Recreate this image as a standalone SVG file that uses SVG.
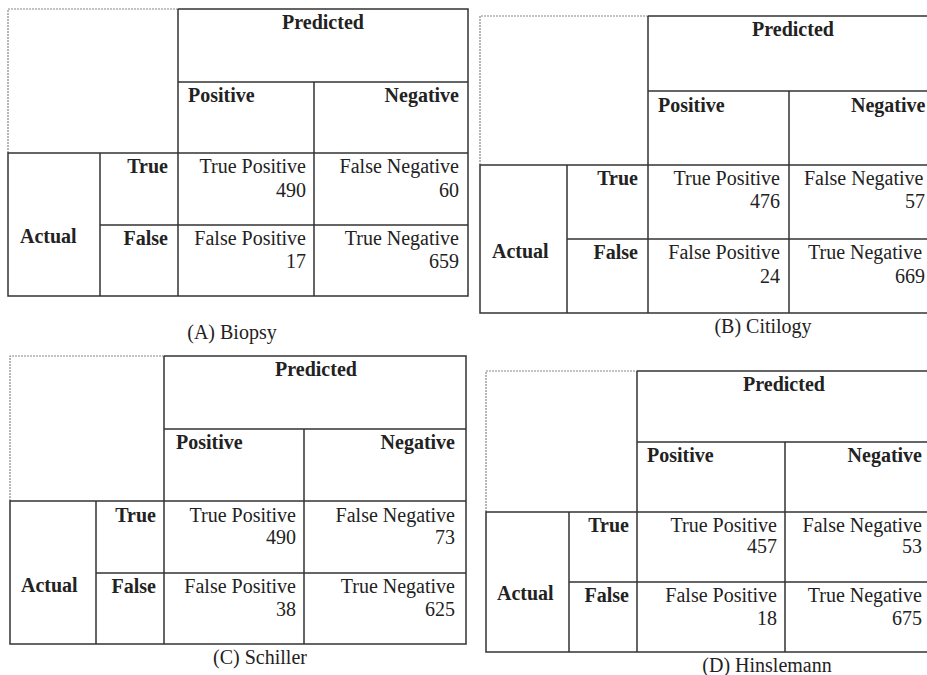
<svg xmlns="http://www.w3.org/2000/svg" width="927" height="675" viewBox="0 0 927 675">
<style>
.ln{fill:none;stroke:#333;stroke-width:1.5}
.ds{fill:none;stroke:#888;stroke-width:1.2;stroke-dasharray:2 1}
text{font-family:"Liberation Serif","Times New Roman",serif;font-size:20px;fill:#222}
.b{font-weight:bold}
.e{text-anchor:end}
.m{text-anchor:middle}
</style>
<rect width="927" height="675" fill="#fff"/>

<g id="tableA">
<path class="ds" d="M8,153V9H178"/>
<path class="ln" d="M178,9H468V296H8V153H468M178,82H468M178,9V296M314,82V296M100,153V296M100,225H468"/>
<text class="b m" x="323" y="29">Predicted</text>
<text class="b" x="188" y="102">Positive</text>
<text class="b e" x="459" y="102">Negative</text>
<text class="b e" x="168" y="173">True</text>
<text class="b e" x="168" y="245">False</text>
<text class="b" x="20" y="243">Actual</text>
<text class="e" x="306" y="173">True Positive</text>
<text class="e" x="306" y="197">490</text>
<text class="e" x="459" y="173">False Negative</text>
<text class="e" x="459" y="197">60</text>
<text class="e" x="306" y="245">False Positive</text>
<text class="e" x="306" y="268">17</text>
<text class="e" x="459" y="245">True Negative</text>
<text class="e" x="459" y="268">659</text>
<text class="m" x="232" y="339">(A) Biopsy</text>
</g>

<g id="tableB">
<path class="ds" d="M480,165V16H648"/>
<path class="ln" d="M648,16H930M930,313H480V165H930M648,91H930M648,16V313M789,91V313M567,165V313M567,239H930"/>
<text class="b m" x="793" y="36">Predicted</text>
<text class="b" x="658" y="112">Positive</text>
<text class="b" x="851" y="112">Negative</text>
<text class="e" x="780" y="185">True Positive</text>
<text class="e" x="780" y="208">476</text>
<text x="804" y="185">False Negative</text>
<text class="e" x="925" y="208">57</text>
<text class="b e" x="638" y="185">True</text>
<text class="b e" x="638" y="259">False</text>
<text class="b" x="492" y="258">Actual</text>
<text class="e" x="780" y="259">False Positive</text>
<text class="e" x="780" y="283">24</text>
<text x="808" y="259">True Negative</text>
<text class="e" x="925" y="283">669</text>
<text class="m" x="763" y="333">(B) Citilogy</text>
</g>

<g id="tableC">
<path class="ds" d="M10,501V356H164"/>
<path class="ln" d="M164,356H466V644H10V501H466M164,429H466M164,356V644M304,429V644M96,501V644M96,573H466"/>
<text class="b m" x="316" y="376">Predicted</text>
<text class="b" x="176" y="449">Positive</text>
<text class="b e" x="455" y="449">Negative</text>
<text class="b e" x="156" y="522">True</text>
<text class="b e" x="156" y="593">False</text>
<text class="b" x="21" y="592">Actual</text>
<text class="e" x="296" y="522">True Positive</text>
<text class="e" x="296" y="544">490</text>
<text class="e" x="455" y="522">False Negative</text>
<text class="e" x="455" y="544">73</text>
<text class="e" x="296" y="593">False Positive</text>
<text class="e" x="296" y="616">38</text>
<text class="e" x="455" y="593">True Negative</text>
<text class="e" x="455" y="616">625</text>
<text class="m" x="260" y="664">(C) Schiller</text>
</g>

<g id="tableD">
<path class="ds" d="M486,512V371H637"/>
<path class="ln" d="M637,371H930M930,652H486V512H930M637,442H930M637,371V652M785,442V652M569,512V652M569,582H930"/>
<text class="b m" x="784" y="391">Predicted</text>
<text class="b" x="647" y="462">Positive</text>
<text class="b e" x="922" y="462">Negative</text>
<text class="b e" x="629" y="532">True</text>
<text class="b e" x="629" y="602">False</text>
<text class="b" x="497" y="600">Actual</text>
<text class="e" x="777" y="532">True Positive</text>
<text class="e" x="777" y="553">457</text>
<text class="e" x="922" y="532">False Negative</text>
<text class="e" x="922" y="553">53</text>
<text class="e" x="777" y="602">False Positive</text>
<text class="e" x="777" y="625">18</text>
<text class="e" x="922" y="602">True Negative</text>
<text class="e" x="922" y="625">675</text>
<text class="m" x="767" y="672">(D) Hinslemann</text>
</g>
</svg>
